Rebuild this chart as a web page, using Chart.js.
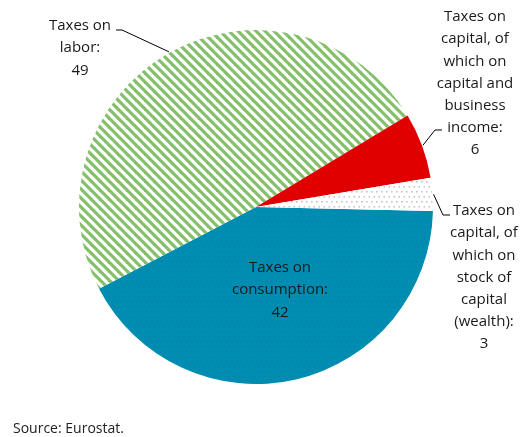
<!DOCTYPE html>
<html>
<head>
<meta charset="utf-8">
<script src="https://cdn.jsdelivr.net/npm/chart.js@4.4.0/dist/chart.umd.min.js"></script>
<style>
  html, body { margin: 0; padding: 0; background: #fff; }
  #wrap { position: relative; width: 524px; height: 437px; }
  #source { position: absolute; left: 13px; top: 418px; font: 14px "Open Sans", sans-serif; color: #222; }
</style>
</head>
<body>
<div id="wrap">
  <canvas id="pie"></canvas>
  <div id="source">Source: Eurostat.</div>
</div>
<script>
// slices, clockwise from just below 3 o'clock
const categories = ['Taxes on consumption', 'Taxes on labor', 'Taxes on capital, of which on capital and business income', 'Taxes on capital, of which on stock of capital (wealth)'];
const shares = [42, 49, 6, 3];
const labelLines = [
    ['Taxes on', 'consumption:'],
    ['Taxes on', 'labor:'],
    ['Taxes on', 'capital, of', 'which on', 'capital and', 'business', 'income:'],
    ['Taxes on', 'capital, of', 'which on', 'stock of', 'capital', '(wealth):'],
];

// label placement: centre x, first line y, and leader elbow / end (null = inside)
const labelPos = [
    { x: 280, y: 268, elbow: null },
    { x: 80, y: 26, elbow: [122, 30], end: [116, 30] },
    { x: 475, y: 17, elbow: [435, 130], end: [442, 130] },
    { x: 484, y: 211, elbow: [443, 215], end: [450, 215] },
];
const LINE_H = 22.2;

function stripePattern() {
    const c = document.createElement('canvas');
    c.width = 9; c.height = 9;
    const g = c.getContext('2d');
    g.fillStyle = '#fff';
    g.fillRect(0, 0, 9, 9);
    g.strokeStyle = '#84bf6a';
    g.lineWidth = 3.2;
    for (const x0 of [-9, 0, 9]) {
        g.beginPath();
        g.moveTo(x0 - 2, -2);
        g.lineTo(x0 + 11, 11);
        g.stroke();
    }
    return g.createPattern(c, 'repeat');
}

function dotPattern(bg, dot, size) {
    const c = document.createElement('canvas');
    c.width = 10; c.height = 10;
    const g = c.getContext('2d');
    g.fillStyle = bg;
    g.fillRect(0, 0, 10, 10);
    g.fillStyle = dot;
    for (const [x, y] of [[1, 1], [6, 1], [3.5, 6], [8.5, 6]]) {
        g.fillRect(x, y, size, size);
    }
    return g.createPattern(c, 'repeat');
}

const sliceLabels = {
    id: 'sliceLabels',
    afterDatasetsDraw(chart) {
        const ctx = chart.ctx;
        const arcs = chart.getDatasetMeta(0).data;
        ctx.save();
        ctx.font = '15px "Open Sans", sans-serif';
        ctx.fillStyle = '#1a1a1a';
        ctx.textAlign = 'center';
        ctx.textBaseline = 'middle';
        ctx.strokeStyle = '#000';
        ctx.lineWidth = 1;
        arcs.forEach((arc, i) => {
            const p = labelPos[i];
            const lines = labelLines[i].concat(String(shares[i]));
            lines.forEach((t, k) => ctx.fillText(t, p.x, p.y + k * LINE_H));
            if (p.elbow) {
                const mid = (arc.startAngle + arc.endAngle) / 2;
                const r = arc.outerRadius + 1;
                ctx.beginPath();
                ctx.moveTo(arc.x + Math.cos(mid) * r, arc.y + Math.sin(mid) * r);
                ctx.lineTo(p.elbow[0], p.elbow[1]);
                ctx.lineTo(p.end[0], p.end[1]);
                ctx.stroke();
            }
        });
        ctx.restore();
    },
};

new Chart(document.getElementById('pie'), {
    type: 'pie',
    data: {
        labels: categories,
        datasets: [{
            data: shares,
            backgroundColor: [
                dotPattern('#008db1', 'rgba(0,60,90,0.09)', 1.5),
                stripePattern(),
                '#e00000',
                dotPattern('#ffffff', '#c4c4c4', 1.6),
            ],
            borderWidth: 0,
            hoverOffset: 0,
            radius: 177,
        }],
    },
    options: {
        responsive: true,
        maintainAspectRatio: false,
        animation: false,
        rotation: 91.3,
        layout: { padding: { left: 79, top: 30, right: 91, bottom: 53 } },
        plugins: { legend: { display: false }, tooltip: { enabled: false } },
        events: [],
    },
    plugins: [sliceLabels],
});
</script>
</body>
</html>
